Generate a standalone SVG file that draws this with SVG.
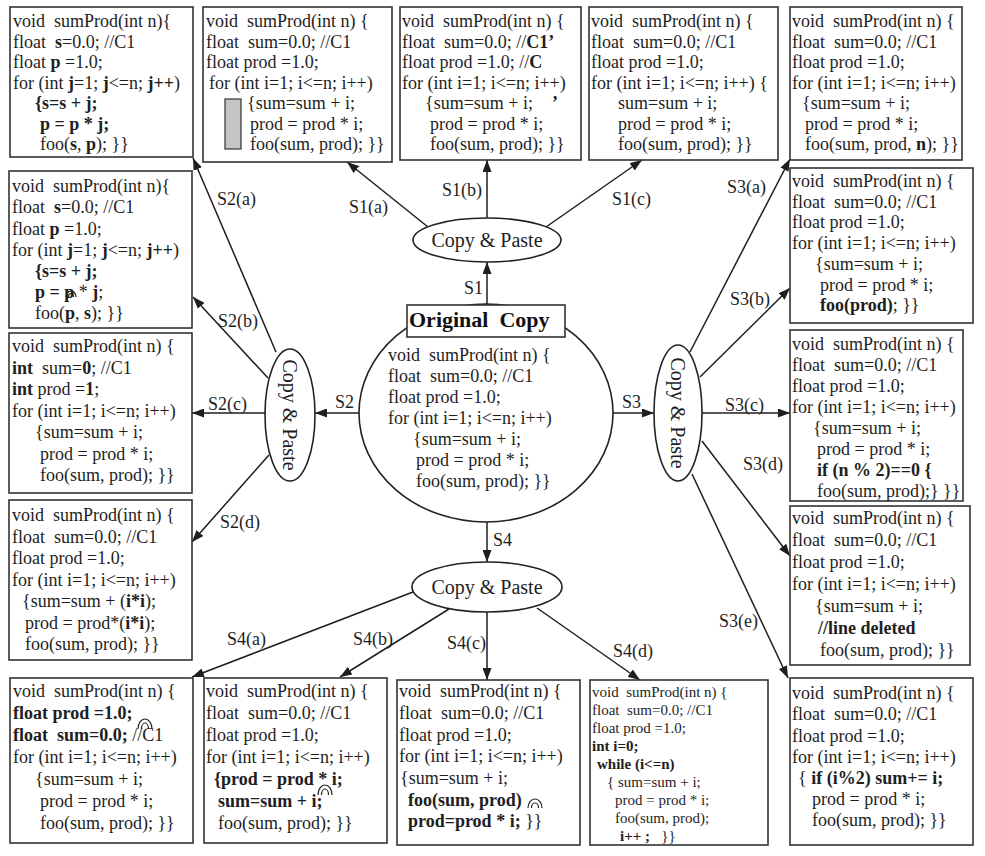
<svg xmlns="http://www.w3.org/2000/svg" width="985" height="856" viewBox="0 0 985 856">
<style>
.bg{fill:#fff}
.box{fill:#fff;stroke:#333;stroke-width:1.6}
.t{font-family:"Liberation Serif","Times New Roman",serif;font-size:18px;fill:#1e1e1e;white-space:pre}
.s{font-size:15px}
.b{font-weight:bold}
.lbl{font-family:"Liberation Serif","Times New Roman",serif;font-size:18px;fill:#1e1e1e}
.cp{font-family:"Liberation Serif","Times New Roman",serif;font-size:20px;fill:#1e1e1e;text-anchor:middle}
.oc{font-family:"Liberation Serif","Times New Roman",serif;font-size:22px;font-weight:bold;fill:#111;white-space:pre}
.ell{fill:#fff;stroke:#222;stroke-width:1.6}
.conn line{stroke:#1e1e1e;stroke-width:1.5;marker-end:url(#arr)}
.arc{fill:none;stroke:#222;stroke-width:1.2}
</style>
<defs>
<marker id="arr" viewBox="0 0 12 9" refX="12" refY="4.5" markerWidth="12" markerHeight="9" markerUnits="userSpaceOnUse" orient="auto">
<path d="M0,0 L12,4.5 L0,9 z" fill="#1e1e1e"/>
</marker>
</defs>
<rect class="bg" x="0" y="0" width="985" height="856"/>

<g id="connectors" class="conn">
<line x1="487" y1="305" x2="487" y2="262"/>
<line x1="428" y1="227" x2="347" y2="162"/>
<line x1="487" y1="218" x2="487" y2="160"/>
<line x1="546" y1="227" x2="642" y2="160"/>
<line x1="359" y1="413" x2="315" y2="413"/>
<line x1="613" y1="413" x2="654" y2="413"/>
<line x1="487" y1="522" x2="487" y2="562"/>
<line x1="276" y1="352" x2="193" y2="158"/>
<line x1="268" y1="378" x2="193" y2="297"/>
<line x1="265" y1="413" x2="192" y2="413"/>
<line x1="269" y1="455" x2="192" y2="542"/>
<line x1="690" y1="352" x2="790" y2="159"/>
<line x1="700" y1="377" x2="790" y2="288"/>
<line x1="702" y1="413" x2="790" y2="413"/>
<line x1="702" y1="441" x2="790" y2="556"/>
<line x1="692" y1="474" x2="788" y2="678"/>
<line x1="413" y1="592" x2="192" y2="677"/>
<line x1="449" y1="609" x2="340" y2="677"/>
<line x1="487" y1="612" x2="487" y2="680"/>
<line x1="537" y1="608" x2="640" y2="680"/>
</g>

<g id="labels">
<text class="lbl" x="464" y="294">S1</text>
<text class="lbl" x="349" y="213">S1(a)</text>
<text class="lbl" x="442" y="196">S1(b)</text>
<text class="lbl" x="612" y="205">S1(c)</text>
<text class="lbl" x="335" y="408">S2</text>
<text class="lbl" x="622" y="408">S3</text>
<text class="lbl" x="493" y="546">S4</text>
<text class="lbl" x="217" y="205">S2(a)</text>
<text class="lbl" x="218" y="327">S2(b)</text>
<text class="lbl" x="208" y="410">S2(c)</text>
<text class="lbl" x="220" y="528">S2(d)</text>
<text class="lbl" x="727" y="193">S3(a)</text>
<text class="lbl" x="730" y="305">S3(b)</text>
<text class="lbl" x="725" y="411">S3(c)</text>
<text class="lbl" x="743" y="470">S3(d)</text>
<text class="lbl" x="719" y="627">S3(e)</text>
<text class="lbl" x="227" y="645">S4(a)</text>
<text class="lbl" x="353" y="645">S4(b)</text>
<text class="lbl" x="447" y="649">S4(c)</text>
<text class="lbl" x="613" y="657">S4(d)</text>
</g>

<g id="original">
<ellipse class="ell" cx="486" cy="413" rx="127" ry="109"/>
<rect class="box" x="407" y="305" width="158" height="32"/>
<text class="oc" x="409" y="327">Original  Copy</text>
<text class="t" x="388" y="361">void  sumProd(int n) {</text>
<text class="t" x="388" y="382">float  sum=0.0; //C1</text>
<text class="t" x="388" y="403">float prod =1.0;</text>
<text class="t" x="388" y="424">for (int i=1; i&lt;=n; i++)</text>
<text class="t" x="413" y="445">{sum=sum + i;</text>
<text class="t" x="416" y="466">prod = prod * i;</text>
<text class="t" x="416" y="487">foo(sum, prod); }}</text>
</g>

<g id="cp-top">
<ellipse class="ell" cx="487" cy="240" rx="74" ry="22"/>
<text class="cp" x="487" y="247">Copy &amp; Paste</text>
</g>
<g id="cp-bottom">
<ellipse class="ell" cx="487" cy="587" rx="75" ry="25"/>
<text class="cp" x="487" y="594">Copy &amp; Paste</text>
</g>
<g id="cp-left">
<ellipse class="ell" cx="290" cy="415" rx="25" ry="66"/>
<text class="cp" transform="translate(290,415) rotate(90)" x="0" y="7">Copy &amp; Paste</text>
</g>
<g id="cp-right">
<ellipse class="ell" cx="678" cy="413" rx="24" ry="68"/>
<text class="cp" transform="translate(678,413) rotate(90)" x="0" y="7">Copy &amp; Paste</text>
</g>

<g id="box-s2a">
<rect class="box" x="10" y="7" width="183" height="150"/>
<text class="t" x="13" y="27">void  sumProd(int n){</text>
<text class="t" x="13" y="47.5">float  <tspan class="b">s</tspan>=0.0; //C1</text>
<text class="t" x="13" y="68">float <tspan class="b">p</tspan> =1.0;</text>
<text class="t" x="13" y="88.5">for (int <tspan class="b">j</tspan>=1; <tspan class="b">j</tspan>&lt;=n; <tspan class="b">j++</tspan>)</text>
<text class="t b" x="35" y="109">{s=s + j;</text>
<text class="t b" x="40" y="129.5">p = p * j;</text>
<text class="t" x="40" y="150">foo(<tspan class="b">s</tspan>, <tspan class="b">p</tspan>); }}</text>
</g>

<g id="box-s1a">
<rect class="box" x="203" y="7" width="189" height="155"/>
<text class="t" x="206" y="27">void  sumProd(int n) {</text>
<text class="t" x="206" y="47.5">float  sum=0.0; //C1</text>
<text class="t" x="206" y="68">float prod =1.0;</text>
<text class="t" x="209" y="88.5">for (int i=1; i&lt;=n; i++)</text>
<rect x="225" y="99" width="16" height="50" fill="#c4c4c4" stroke="#333" stroke-width="1.2"/>
<text class="t" x="247" y="109">{sum=sum + i;</text>
<text class="t" x="250" y="129.5">prod = prod * i;</text>
<text class="t" x="250" y="150">foo(sum, prod); }}</text>
</g>

<g id="box-s1b">
<rect class="box" x="400" y="7" width="181" height="153"/>
<text class="t" x="402" y="27">void  sumProd(int n) {</text>
<text class="t" x="402" y="47.5">float  sum=0.0; //<tspan class="b">C1’</tspan></text>
<text class="t" x="402" y="68">float prod =1.0; //<tspan class="b">C</tspan></text>
<text class="t" x="402" y="88.5">for (int i=1; i&lt;=n; i++)</text>
<text class="t" x="425" y="109">{sum=sum + i;</text>
<text class="t b" x="552" y="109">’</text>
<text class="t" x="430" y="129.5">prod = prod * i;</text>
<text class="t" x="430" y="150">foo(sum, prod); }}</text>
</g>

<g id="box-s1c">
<rect class="box" x="589" y="7" width="189" height="153"/>
<text class="t" x="591" y="27">void  sumProd(int n) {</text>
<text class="t" x="591" y="47.5">float  sum=0.0; //C1</text>
<text class="t" x="591" y="68">float prod =1.0;</text>
<text class="t" x="591" y="88.5">for (int i=1; i&lt;=n; i++) {</text>
<text class="t" x="618" y="109">sum=sum + i;</text>
<text class="t" x="618" y="129.5">prod = prod * i;</text>
<text class="t" x="618" y="150">foo(sum, prod); }}</text>
</g>

<g id="box-s3a">
<rect class="box" x="790" y="7" width="172" height="153"/>
<text class="t" x="792" y="27">void  sumProd(int n) {</text>
<text class="t" x="792" y="47.5">float  sum=0.0; //C1</text>
<text class="t" x="792" y="68">float prod =1.0;</text>
<text class="t" x="792" y="88.5">for (int i=1; i&lt;=n; i++)</text>
<text class="t" x="802" y="109">{sum=sum + i;</text>
<text class="t" x="805" y="129.5">prod = prod * i;</text>
<text class="t" x="805" y="150">foo(sum, prod, <tspan class="b">n</tspan>); }}</text>
</g>

<g id="box-s3b">
<rect class="box" x="790" y="168" width="183" height="155"/>
<text class="t" x="792" y="187">void  sumProd(int n) {</text>
<text class="t" x="792" y="207.7">float  sum=0.0; //C1</text>
<text class="t" x="792" y="228.4">float prod =1.0;</text>
<text class="t" x="792" y="249">for (int i=1; i&lt;=n; i++)</text>
<text class="t" x="815" y="270">{sum=sum + i;</text>
<text class="t" x="820" y="290.5">prod = prod * i;</text>
<text class="t" x="820" y="311"><tspan class="b">foo(prod)</tspan>; }}</text>
</g>

<g id="box-s3c">
<rect class="box" x="790" y="330" width="173" height="171"/>
<text class="t" x="792" y="350">void  sumProd(int n) {</text>
<text class="t" x="792" y="371">float  sum=0.0; //C1</text>
<text class="t" x="792" y="392">float prod =1.0;</text>
<text class="t" x="792" y="413">for (int i=1; i&lt;=n; i++)</text>
<text class="t" x="813" y="434">{sum=sum + i;</text>
<text class="t" x="817" y="455">prod = prod * i;</text>
<text class="t b" x="817" y="476">if (n % 2)==0 {</text>
<text class="t" x="817" y="497">foo(sum, prod);} }}</text>
</g>

<g id="box-s3d">
<rect class="box" x="790" y="506" width="180" height="159"/>
<text class="t" x="792" y="524">void  sumProd(int n) {</text>
<text class="t" x="792" y="546">float  sum=0.0; //C1</text>
<text class="t" x="792" y="568">float prod =1.0;</text>
<text class="t" x="792" y="590">for (int i=1; i&lt;=n; i++)</text>
<text class="t" x="815" y="612">{sum=sum + i;</text>
<text class="t b" x="818" y="634">//line deleted</text>
<text class="t" x="820" y="656">foo(sum, prod); }}</text>
</g>

<g id="box-s3e">
<rect class="box" x="790" y="678" width="183" height="167"/>
<text class="t" x="792" y="699">void  sumProd(int n) {</text>
<text class="t" x="792" y="720">float  sum=0.0; //C1</text>
<text class="t" x="792" y="741.5">float prod =1.0;</text>
<text class="t" x="792" y="762.5">for (int i=1; i&lt;=n; i++)</text>
<text class="t" x="798" y="784">{ <tspan class="b">if (i%2) sum+= i;</tspan></text>
<text class="t" x="812" y="805">prod = prod * i;</text>
<text class="t" x="812" y="826">foo(sum, prod); }}</text>
</g>

<g id="box-s2b">
<rect class="box" x="9" y="171" width="183" height="157"/>
<text class="t" x="12" y="192">void  sumProd(int n){</text>
<text class="t" x="12" y="213">float  <tspan class="b">s</tspan>=0.0; //C1</text>
<text class="t" x="12" y="234.5">float <tspan class="b">p</tspan> =1.0;</text>
<text class="t" x="12" y="255.5">for (int <tspan class="b">j</tspan>=1; <tspan class="b">j</tspan>&lt;=n; <tspan class="b">j++</tspan>)</text>
<text class="t b" x="35" y="276.5">{s=s + j;</text>
<text class="t" x="35" y="297.5"><tspan class="b">p = p</tspan> * <tspan class="b">j</tspan>;</text>
<text class="t" x="35" y="319">foo(<tspan class="b">p</tspan>, <tspan class="b">s</tspan>); }}</text>
<path class="arc" d="M66,297 A5,6 0 0 1 76,297 M68.5,297 A2.5,3.5 0 0 1 73.5,297"/>
</g>

<g id="box-s2c">
<rect class="box" x="9" y="333" width="183" height="160"/>
<text class="t" x="12" y="352">void  sumProd(int n) {</text>
<text class="t" x="12" y="373.5"><tspan class="b">int</tspan>  sum=<tspan class="b">0</tspan>; //C1</text>
<text class="t" x="12" y="395"><tspan class="b">int</tspan> prod =<tspan class="b">1</tspan>;</text>
<text class="t" x="12" y="416.5">for (int i=1; i&lt;=n; i++)</text>
<text class="t" x="35" y="438">{sum=sum + i;</text>
<text class="t" x="40" y="459.5">prod = prod * i;</text>
<text class="t" x="40" y="481">foo(sum, prod); }}</text>
</g>

<g id="box-s2d">
<rect class="box" x="9" y="500" width="183" height="160"/>
<text class="t" x="12" y="521">void  sumProd(int n) {</text>
<text class="t" x="12" y="542.5">float  sum=0.0; //C1</text>
<text class="t" x="12" y="564">float prod =1.0;</text>
<text class="t" x="12" y="585.5">for (int i=1; i&lt;=n; i++)</text>
<text class="t" x="22" y="607">{sum=sum + (<tspan class="b">i*i</tspan>);</text>
<text class="t" x="25" y="628.5">prod = prod*(<tspan class="b">i*i</tspan>);</text>
<text class="t" x="25" y="650">foo(sum, prod); }}</text>
</g>

<g id="box-s4a">
<rect class="box" x="10" y="678" width="183" height="165"/>
<text class="t" x="13" y="697">void  sumProd(int n) {</text>
<text class="t b" x="13" y="719">float prod =1.0;</text>
<text class="t" x="13" y="741"><tspan class="b">float  sum=0.0;</tspan> //C1</text>
<text class="t" x="13" y="763">for (int i=1; i&lt;=n; i++)</text>
<text class="t" x="35" y="785">{sum=sum + i;</text>
<text class="t" x="40" y="807">prod = prod * i;</text>
<text class="t" x="40" y="829">foo(sum, prod); }}</text>
<path class="arc" d="M138,729 A7,10 0 0 1 152,729 M141.5,729 A3.5,6 0 0 1 148.5,729"/>
</g>

<g id="box-s4b">
<rect class="box" x="204" y="678" width="183" height="165"/>
<text class="t" x="206" y="697">void  sumProd(int n) {</text>
<text class="t" x="206" y="719">float  sum=0.0; //C1</text>
<text class="t" x="206" y="741">float prod =1.0;</text>
<text class="t" x="206" y="763">for (int i=1; i&lt;=n; i++)</text>
<text class="t b" x="214" y="785">{prod = prod * i;</text>
<text class="t b" x="218" y="807">sum=sum + i;</text>
<text class="t" x="218" y="829">foo(sum, prod); }}</text>
<path class="arc" d="M318,795 A7,10 0 0 1 332,795 M321.5,795 A3.5,6 0 0 1 328.5,795"/>
</g>

<g id="box-s4c">
<rect class="box" x="397" y="680" width="183" height="165"/>
<text class="t" x="399" y="697">void  sumProd(int n) {</text>
<text class="t" x="399" y="719">float  sum=0.0; //C1</text>
<text class="t" x="399" y="740.5">float prod =1.0;</text>
<text class="t" x="399" y="762">for (int i=1; i&lt;=n; i++)</text>
<text class="t" x="400" y="784">{sum=sum + i;</text>
<text class="t b" x="408" y="805.5">foo(sum, prod)</text>
<text class="t" x="408" y="827"><tspan class="b">prod=prod * i;</tspan> }}</text>
<path class="arc" d="M528,808 A7,9 0 0 1 542,808 M531.5,808 A3.5,5 0 0 1 538.5,808"/>
</g>

<g id="box-s4d">
<rect class="box" x="590" y="680" width="178" height="165"/>
<text class="t s" x="592" y="697">void  sumProd(int n) {</text>
<text class="t s" x="592" y="715">float  sum=0.0; //C1</text>
<text class="t s" x="592" y="733">float prod =1.0;</text>
<text class="t s b" x="592" y="751">int i=0;</text>
<text class="t s b" x="597" y="769">while (i&lt;=n)</text>
<text class="t s" x="607" y="787">{ sum=sum + i;</text>
<text class="t s" x="615" y="805">prod = prod * i;</text>
<text class="t s" x="615" y="823">foo(sum, prod);</text>
<text class="t s" x="620" y="841"><tspan class="b">i++ ;</tspan>   }}</text>
</g>
</svg>
